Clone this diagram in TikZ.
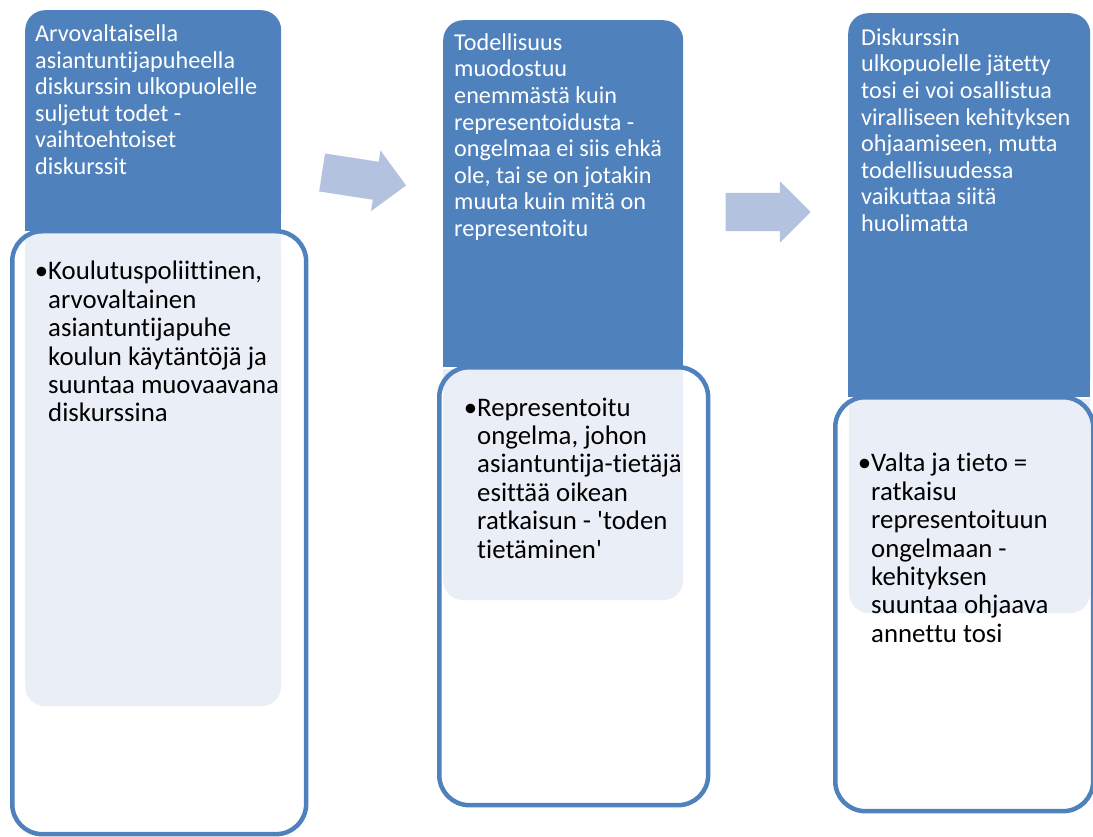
\documentclass[tikz,border=0pt]{standalone}
\usepackage{fontspec}
\setmainfont{Carlito}[Ligatures={TeXOff,NoCommon}]
\usetikzlibrary{shapes.arrows}

\definecolor{accblue}{HTML}{4F81BD}
\definecolor{paleblue}{HTML}{EAEFF7}
\definecolor{arrowblue}{HTML}{B3C2DE}

\begin{document}
\begin{tikzpicture}[x=1pt, y=-1pt,
	headbox/.style={anchor=north west, fill=accblue, rounded corners=20pt, inner sep=0},
	framebox/.style={anchor=north west, fill=white, inner sep=0},
	framestroke/.style={draw=accblue, line width=4.5pt, rounded corners=30pt},
	palebox/.style={anchor=north west, fill=paleblue, rounded corners=20pt, inner sep=0},
	headtext/.style={anchor=north west, text=white, align=left, inner sep=0, font=\fontsize{24.2}{26.6}\selectfont},
	bullettext/.style={anchor=north west, text=black, align=left, inner sep=0, font=\fontsize{26.8}{28.4}\selectfont},
	flowarrow/.style={single arrow, fill=arrowblue, inner xsep=0, inner ysep=19pt, minimum height=85pt, minimum width=61pt, single arrow head extend=11.5pt, single arrow tip angle=90}]
		\useasboundingbox (0,0) rectangle (1093,837);

		% first column
		\node [headbox, minimum width=256pt, minimum height=222pt] (headA) at (25,10) {};
		\fill [accblue] ([yshift=25pt]headA.south west) rectangle (headA.south east);
		\node [framebox, minimum width=293.5pt, minimum height=602.5pt] (frameA) at (12.25,231.25) {};
		\node [palebox, minimum width=256pt, minimum height=473pt] (paleA) at (25,233) {};
		\fill [paleblue] (paleA.north west) rectangle ([yshift=-25pt]paleA.north east);
		\draw [framestroke] (frameA.north west) rectangle (frameA.south east);
		\node [headtext] (headtxtA) at (35,24.5) {Arvovaltaisella\\asiantuntijapuheella\\diskurssin ulkopuolelle\\suljetut todet -\\vaihtoehtoiset\\diskurssit};
		\node [bullettext] (bulletA) at (48,261) {\llap{•}Koulutuspoliittinen,\\arvovaltainen\\asiantuntijapuhe\\koulun käytäntöjä ja\\suuntaa muovaavana\\diskurssina};

		% second column
		\node [headbox, minimum width=240pt, minimum height=348pt] (headB) at (443,20) {};
		\fill [accblue] ([yshift=25pt]headB.south west) rectangle (headB.south east);
		\node [framebox, minimum width=268.5pt, minimum height=437.5pt] (frameB) at (439.25,367.25) {};
		\node [palebox, minimum width=240pt, minimum height=231pt] (paleB) at (443,369) {};
		\fill [paleblue] (paleB.north west) rectangle ([yshift=-25pt]paleB.north east);
		\draw [framestroke] (frameB.north west) rectangle (frameB.south east);
		\node [headtext] (headtxtB) at (454,33.2) {Todellisuus\\muodostuu\\enemmästä kuin\\representoidusta -\\ongelmaa ei siis ehkä\\ole, tai se on jotakin\\muuta kuin mitä on\\representoitu};
		\node [bullettext] (bulletB) at (477,397.5) {\llap{•}Representoitu\\ongelma, johon\\asiantuntija-tietäjä\\esittää oikean\\ratkaisun - 'toden\\tietäminen'};

		% third column
		\node [headbox, minimum width=242pt, minimum height=385pt] (headC) at (848,13) {};
		\fill [accblue] ([yshift=25pt]headC.south west) rectangle (headC.south east);
		\node [framebox, minimum width=257.5pt, minimum height=413.5pt] (frameC) at (835.25,397.25) {};
		\node [palebox, minimum width=241pt, minimum height=214pt] (paleC) at (849,399) {};
		\fill [paleblue] (paleC.north west) rectangle ([yshift=-25pt]paleC.north east);
		\draw [framestroke] (frameC.north west) rectangle (frameC.south east);
		\node [headtext] (headtxtC) at (861,28.2) {Diskurssin\\ulkopuolelle jätetty\\tosi ei voi osallistua\\viralliseen kehityksen\\ohjaamiseen, mutta\\todellisuudessa\\vaikuttaa siitä\\huolimatta};
		\node [bullettext] (bulletC) at (871,453) {\llap{•}Valta ja tieto =\\ratkaisu\\representoituun\\ongelmaan -\\kehityksen\\suuntaa ohjaava\\annettu tosi};

		% arrows between the columns
		\node [flowarrow, rotate=-8.8] (arrowAB) at (354.6,177.5) {};
		\node [flowarrow] (arrowBC) at (758.5,212) {};
	\end{tikzpicture}
\end{document}
